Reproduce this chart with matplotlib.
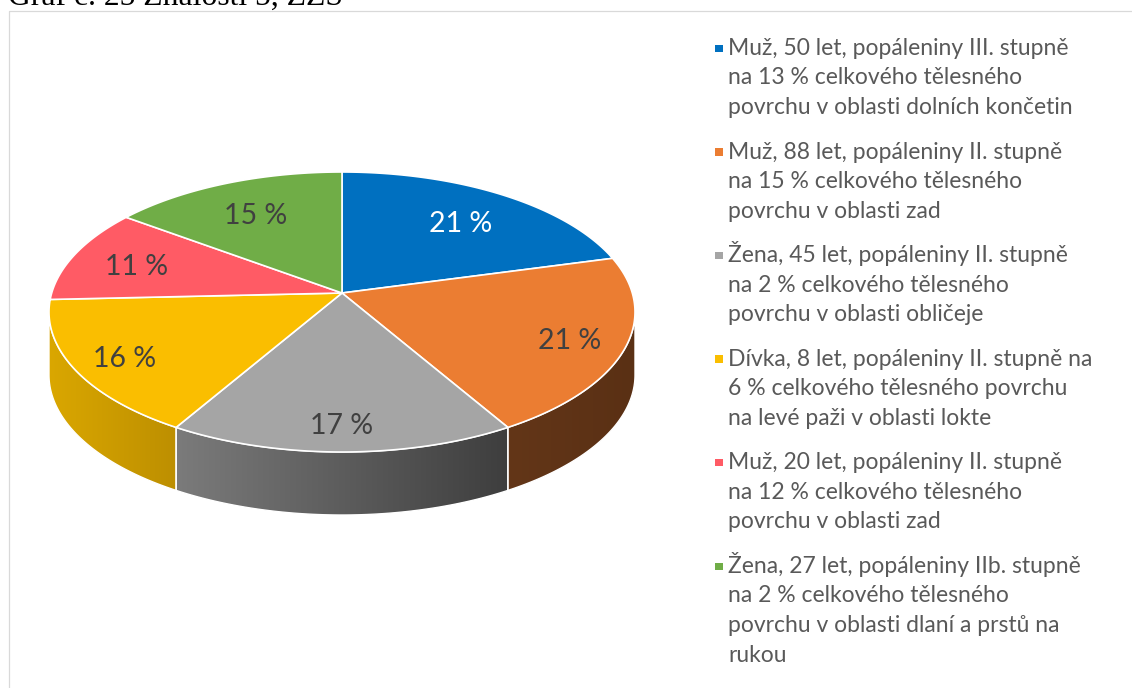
import numpy as np
import matplotlib
matplotlib.use("Agg")
import matplotlib.pyplot as plt
from matplotlib.patches import Polygon, Rectangle
from matplotlib.colors import to_rgb

# ---- data -------------------------------------------------------------
title = "Graf č. 25 Znalosti 5, ZZS"
categories = [
    "Muž, 50 let, popáleniny III. stupně\nna 13 % celkového tělesného\npovrchu v oblasti dolních končetin",
    "Muž, 88 let, popáleniny II. stupně\nna 15 % celkového tělesného\npovrchu v oblasti zad",
    "Žena, 45 let, popáleniny II. stupně\nna 2 % celkového tělesného\npovrchu v oblasti obličeje",
    "Dívka, 8 let, popáleniny II. stupně na\n6 % celkového tělesného povrchu\nna levé paži v oblasti lokte",
    "Muž, 20 let, popáleniny II. stupně\nna 12 % celkového tělesného\npovrchu v oblasti zad",
    "Žena, 27 let, popáleniny IIb. stupně\nna 2 % celkového tělesného\npovrchu v oblasti dlaní a prstů na\nrukou",
]
shares = [21, 21, 17, 16, 11, 15]

# ---- style ------------------------------------------------------------
top_colors = ["#0070C0", "#EB7D32", "#A5A5A5", "#FABE00", "#FF5B65", "#70AD47"]
side_colors = [("#00508A", "#00508A"), ("#633618", "#5A3014"),
               ("#7B7B7B", "#3E3E3E"), ("#DAA700", "#BD8F00"),
               ("#B8404A", "#B8404A"), ("#507D33", "#507D33")]
label_colors = ["white", "#404040", "#404040", "#404040", "#404040", "#404040"]
text_grey = "#595959"
sans = ["Lato", "DejaVu Sans"]

W, H = 1132, 688
fig = plt.figure(figsize=(W / 100, H / 100), dpi=100)
ax = fig.add_axes([0, 0, 1, 1])
ax.set_axis_off()

# Perspective view of the pie disc (screen pixels)
CX = 342.0          # horizontal centre
APEX_Y = 293.0      # where slice edges meet
BACK_Y = 172.0      # far rim
FRONT_Y = 452.0     # near rim
HALF_W = 293.0      # half of the visible width
DEPTH = 63.0        # thickness of the disc

# 1-D projective map v(y) = (B*y + APEX_Y) / (1 + c*y),
# with v(1) = BACK_Y and v(-1) = FRONT_Y
c = (FRONT_Y + BACK_Y - 2 * APEX_Y) / (FRONT_Y - BACK_Y)
B = BACK_Y * (1 + c) - APEX_Y
A = HALF_W * np.sqrt(1 - c * c)


def project(x, y):
    d = 1 + c * y
    return CX + A * x / d, (B * y + APEX_Y) / d


def rim(t0, t1, n=200):
    t = np.radians(np.linspace(t0, t1, n))
    return project(np.cos(t), np.sin(t))


vals = np.asarray(shares, dtype=float)
frac = vals / vals.sum()
edges = 90.0 - 360.0 * np.concatenate([[0.0], np.cumsum(frac)])

# visible part of the cylinder wall (between the vertical tangents)
t_right = -np.degrees(np.arcsin(c))
t_left = -180.0 + np.degrees(np.arcsin(c))

# ---- side walls -------------------------------------------------------
for i in range(len(vals)):
    hi, lo = edges[i], edges[i + 1]
    a, b = max(lo, t_left), min(hi, t_right)
    if a >= b:
        continue
    xs, ys = rim(a, b)
    px = np.concatenate([xs, xs[::-1]])
    py = np.concatenate([ys, ys[::-1] + DEPTH])
    poly = Polygon(np.column_stack([px, py]), closed=True, fc="none",
                   ec="none")
    ax.add_patch(poly)
    c0, c1 = np.array(to_rgb(side_colors[i][0])), np.array(to_rgb(side_colors[i][1]))
    g = np.linspace(0, 1, 256)[None, :, None]
    grad = c0[None, None, :] * (1 - g) + c1[None, None, :] * g
    im = ax.imshow(grad, extent=[px.min(), px.max(), py.max(), py.min()],
                   aspect="auto", interpolation="bilinear", zorder=1)
    im.set_clip_path(poly)
    ax.add_patch(Polygon(np.column_stack([px, py]), closed=True, fc="none",
                         ec="white", lw=1.0, zorder=2))

# ---- top face ---------------------------------------------------------
for i in range(len(vals)):
    xs, ys = rim(edges[i], edges[i + 1])
    pts = np.column_stack([np.concatenate([[CX], xs]),
                           np.concatenate([[APEX_Y], ys])])
    ax.add_patch(Polygon(pts, closed=True, fc=top_colors[i], ec="white",
                         lw=1.2, joinstyle="round", zorder=3))

# ---- percentage labels ------------------------------------------------
for i in range(len(vals)):
    mid = np.radians((edges[i] + edges[i + 1]) / 2)
    r = min(0.785 - 0.075 * np.sin(mid), 0.835)
    lx, ly = project(r * np.cos(mid), r * np.sin(mid))
    ax.text(lx, ly + 4, f"{shares[i]} %", ha="center", va="center",
            fontsize=20.5, color=label_colors[i], family=sans, zorder=4)

# ---- legend -----------------------------------------------------------
LEG_X = 728
LEG_Y0 = 55
LEG_STEP = 103.6
LINE_H = 29.5
for i, lab in enumerate(categories):
    base = LEG_Y0 + i * LEG_STEP
    ax.add_patch(Rectangle((715, base - 10.5), 7.5, 7.5, fc=top_colors[i],
                           ec="none", zorder=4))
    for k, line in enumerate(lab.split("\n")):
        ax.text(LEG_X, base + k * LINE_H, line, ha="left", va="baseline",
                fontsize=16.5, color=text_grey, family=sans, zorder=4)

# ---- frame and heading ------------------------------------------------
ax.add_patch(Rectangle((8.5, 10.5), 1300, 900, fill=False, ec="#D9D9D9",
                       lw=0.9, zorder=0))
ax.text(8, 5, title, ha="left", va="baseline", fontsize=22.8,
        family=["Liberation Serif", "DejaVu Serif"], color="black")

ax.set_xlim(0, W)
ax.set_ylim(H, 0)
fig.savefig("out.png", dpi=100, facecolor="white")
